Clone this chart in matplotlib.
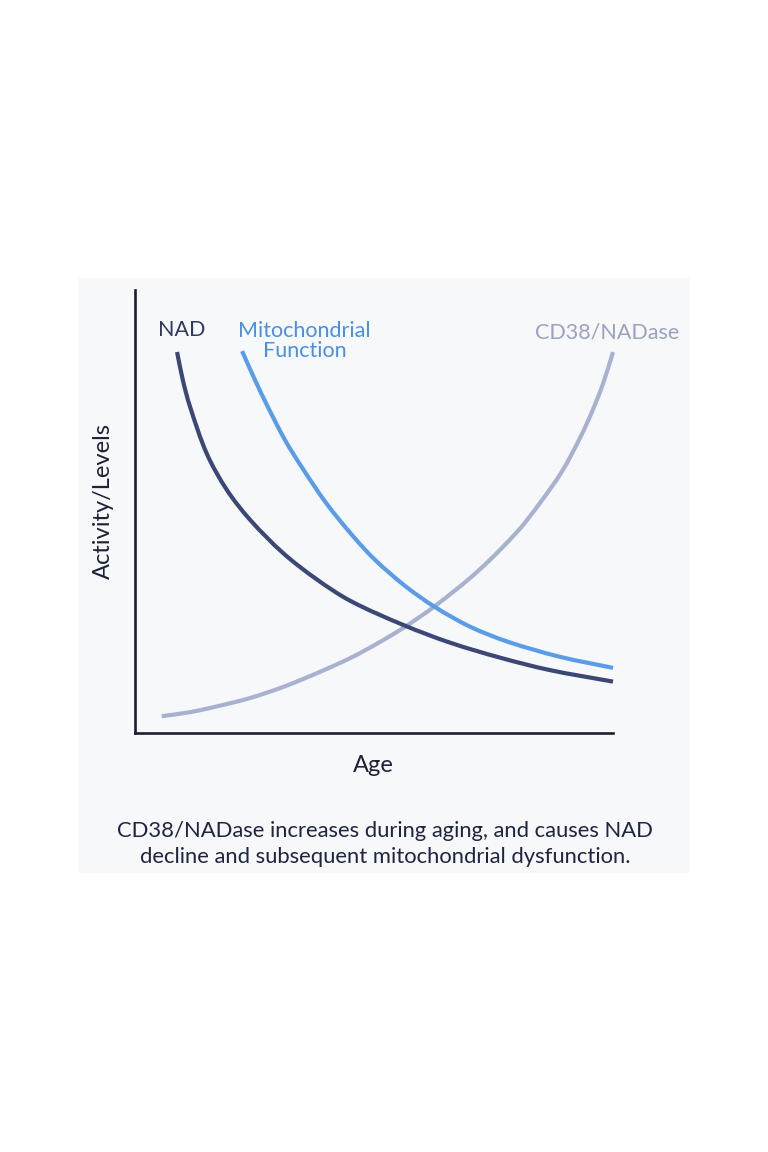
import matplotlib
matplotlib.use("Agg")
import matplotlib.pyplot as plt
from matplotlib.patches import Rectangle, PathPatch
from matplotlib.path import Path

# ---- data ----
nad_x = [8.8, 10.0, 11.5, 15.0, 19.2, 24.1, 31.0, 38.0, 45.1, 56.1, 65.9, 76.4, 86.8, 100.0]
nad_y = [86.0, 79.7, 73.7, 63.1, 54.9, 48.1, 40.6, 34.7, 29.8, 24.4, 20.4, 17.0, 14.2, 11.6]

mito_x = [22.4, 25.1, 27.8, 31.4, 34.9, 40.0, 45.4, 50.2, 56.5, 62.8, 70.1, 78.0, 88.9, 100.0]
mito_y = [86.2, 79.7, 73.6, 66.1, 60.0, 51.9, 44.7, 39.1, 33.2, 28.4, 24.0, 20.6, 17.2, 14.7]

cd38_x = [5.6, 11.5, 17.1, 24.1, 31.0, 38.7, 45.0, 50.2, 56.1, 62.8, 71.8, 80.1, 84.7, 89.3,
          93.1, 95.6, 97.9, 100.0]
cd38_y = [3.8, 4.7, 6.0, 7.9, 10.4, 13.8, 16.9, 19.9, 23.7, 28.7, 36.6, 45.6, 51.9, 59.0,
          66.6, 72.5, 78.8, 86.0]

series_names = ["NAD", "Mitochondrial\nFunction", "CD38/NADase"]
x_label = "Age"
y_label = "Activity/Levels"
caption = "CD38/NADase increases during aging, and causes NAD\ndecline and subsequent mitochondrial dysfunction."

FONT = ["Lato", "DejaVu Sans"]
plt.rcParams["font.family"] = FONT


def smooth_path(xs, ys):
    """Bezier path through every data point (chordal Catmull-Rom tangents)."""
    pts = list(zip(xs, ys))
    n = len(pts)
    d = [((pts[i + 1][0] - pts[i][0]) ** 2 + (pts[i + 1][1] - pts[i][1]) ** 2) ** 0.5
         for i in range(n - 1)]
    tang = []
    for i in range(n):
        if i == 0:
            tang.append(((pts[1][0] - pts[0][0]) / d[0], (pts[1][1] - pts[0][1]) / d[0]))
        elif i == n - 1:
            tang.append(((pts[-1][0] - pts[-2][0]) / d[-1], (pts[-1][1] - pts[-2][1]) / d[-1]))
        else:
            s = d[i - 1] + d[i]
            tang.append(((pts[i + 1][0] - pts[i - 1][0]) / s, (pts[i + 1][1] - pts[i - 1][1]) / s))
    verts = [pts[0]]
    codes = [Path.MOVETO]
    for i in range(n - 1):
        p1, p2 = pts[i], pts[i + 1]
        c1 = (p1[0] + tang[i][0] * d[i] / 3, p1[1] + tang[i][1] * d[i] / 3)
        c2 = (p2[0] - tang[i + 1][0] * d[i] / 3, p2[1] - tang[i + 1][1] * d[i] / 3)
        verts += [c1, c2, p2]
        codes += [Path.CURVE4] * 3
    return Path(verts, codes)


W, H = 768, 1152
fig = plt.figure(figsize=(W / 100, H / 100), dpi=100)
fig.patch.set_facecolor("white")

# light panel
fig.patches.append(Rectangle((78 / W, 1 - 873 / H), (690 - 78) / W, (873 - 278) / H,
                             transform=fig.transFigure, facecolor="#f6f8fa",
                             edgecolor="none", zorder=-5))

ax = fig.add_axes([135 / W, 1 - 733 / H, (613 - 135) / W, (733 - 290) / H])
ax.set_zorder(2)
ax.set_facecolor("none")
ax.set_xlim(0, 100)
ax.set_ylim(0, 100)
for s in ["top", "right"]:
    ax.spines[s].set_visible(False)
for s in ["left", "bottom"]:
    ax.spines[s].set_color("#1c1f33")
    ax.spines[s].set_linewidth(1.9)
ax.set_xticks([])
ax.set_yticks([])

lw = 3.0
for xs, ys, col in [(cd38_x, cd38_y, "#a9b1d1"),
                    (nad_x, nad_y, "#3b4876"),
                    (mito_x, mito_y, "#5b9ce8")]:
    patch = PathPatch(smooth_path(xs, ys), facecolor="none", edgecolor=col, lw=lw,
                      capstyle="butt", joinstyle="round", clip_on=False)
    ax.add_patch(patch)

ax.text(9.8, 91.0, series_names[0], color="#2f3a5c", fontsize=15.5, ha="center", va="center")
ax.text(35.5, 88.5, series_names[1], color="#4a8fe2", fontsize=15.5, ha="center", va="center",
        linespacing=1.05)
ax.text(98.7, 90.5, series_names[2], color="#9aa2bf", fontsize=15.5, ha="center", va="center")

fig.text(373 / W, 1 - 766 / H, x_label, color="#1e2235", fontsize=17, ha="center", va="center")
fig.text(103 / W, 1 - 501 / H, y_label, color="#1e2235", fontsize=17, ha="center", va="center",
         rotation=90)
fig.text(385 / W, 1 - 844 / H, caption, color="#1e2540", fontsize=15.8, ha="center", va="center",
         linespacing=1.4)

fig.savefig("out.png", dpi=100, facecolor="white")
